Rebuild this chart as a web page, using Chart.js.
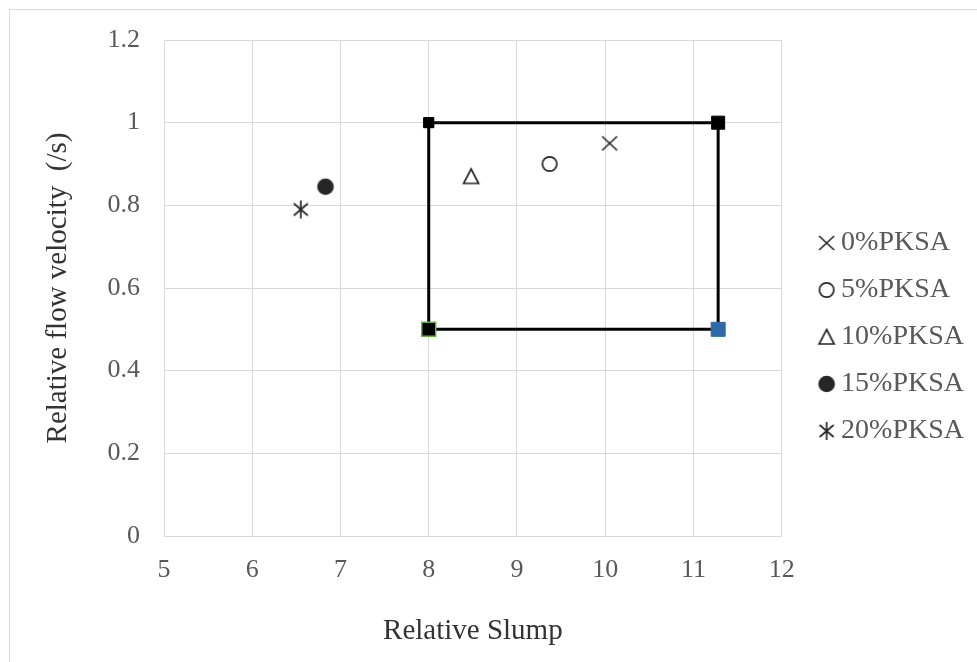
<!DOCTYPE html>
<html lang="en">
<head>
    <meta charset="UTF-8">
    <title>Relative flow velocity vs Relative Slump</title>
    <script src="https://cdn.jsdelivr.net/npm/chart.js@4.4.0/dist/chart.umd.min.js"></script>
    <style>
        body { margin: 0; background: #fff; }
        .wrap { position: relative; width: 977px; height: 662px; overflow: hidden; }
        .frame {
            position: absolute; left: 9px; top: 9px; width: 1000px; height: 700px;
            border: 1px solid #d9d9d9; pointer-events: none;
        }
    </style>
</head>
<body>
<div class="wrap">
    <canvas id="chart" width="977" height="662"></canvas>
    <div class="frame"></div>
</div>
<script>
    // mixes (legend order)
    const seriesNames = ['0%PKSA', '5%PKSA', '10%PKSA', '15%PKSA', '20%PKSA'];
    const slumpValues = [10.05, 9.37, 8.48, 6.83, 6.55];
    const flowValues  = [0.95, 0.90, 0.87, 0.845, 0.79];

    // limit box corners
    const boxX = [8, 11.28, 11.28, 8, 8];
    const boxY = [1, 1, 0.5, 0.5, 1];

    const xTickLabels = ['5', '6', '7', '8', '9', '10', '11', '12'];
    const yTickLabels = ['0', '0.2', '0.4', '0.6', '0.8', '1', '1.2'];

    const ink = '#262626';
    const serif = 'Liberation Serif, "Times New Roman", serif';

    function marker(size, draw) {
        const c = document.createElement('canvas');
        c.width = size; c.height = size;
        const g = c.getContext('2d');
        g.strokeStyle = ink; g.fillStyle = ink; g.lineWidth = 1.7;
        draw(g, size);
        return c;
    }

    const markers = [
        marker(20, (g, s) => { // x
            g.beginPath();
            g.moveTo(2.5, 3); g.lineTo(s - 2.5, s - 3);
            g.moveTo(s - 2.5, 3); g.lineTo(2.5, s - 3);
            g.stroke();
        }),
        marker(20, (g, s) => { // open circle
            g.beginPath(); g.arc(s / 2, s / 2, 7.2, 0, Math.PI * 2); g.stroke();
        }),
        marker(20, (g, s) => { // open triangle
            g.beginPath();
            g.moveTo(s / 2, 2.5); g.lineTo(s - 2.5, s - 3); g.lineTo(2.5, s - 3);
            g.closePath(); g.stroke();
        }),
        marker(20, (g, s) => { // filled circle
            g.beginPath(); g.arc(s / 2, s / 2, 8.3, 0, Math.PI * 2); g.fill();
        }),
        marker(20, (g, s) => { // asterisk
            g.beginPath();
            g.moveTo(s / 2, 1); g.lineTo(s / 2, s - 1);
            g.moveTo(3, 4); g.lineTo(s - 3, s - 4);
            g.moveTo(s - 3, 4); g.lineTo(3, s - 4);
            g.stroke();
        })
    ];

    const datasets = seriesNames.map((name, i) => ({
        label: name,
        data: [{ x: slumpValues[i], y: flowValues[i] }],
        pointStyle: markers[i],
        showLine: false
    }));

    datasets.push({
        label: 'box',
        data: boxX.map((x, i) => ({ x: x, y: boxY[i] })),
        showLine: true,
        borderColor: '#000',
        borderWidth: 3,
        pointStyle: 'rect',
        pointRadius: [7, 9.2, 9.9, 9.9, 7],
        pointBackgroundColor: ['#000', '#000', '#2e6aa7', '#000', '#000'],
        pointBorderColor: ['#000', '#000', '#2e6aa7', '#70ad47', '#000'],
        pointBorderWidth: [1, 1, 1, 1.5, 1]
    });

    // Excel leaves a gap between plot area and legend; Chart.js doesn't,
    // so widen the legend box and push its contents right.
    const legendGap = 25.4;
    const legendShiftUp = 14;
    const LegendEl = Chart.Legend && Chart.Legend._element;
    if (LegendEl) {
        const baseFit = LegendEl.prototype.fit;
        LegendEl.prototype.fit = function () {
            baseFit.call(this);
            if (!this.isHorizontal()) this.width += legendGap;
        };
    }
    const legendOffset = {
        id: 'legendOffset',
        afterLayout(chart) {
            const lg = chart.legend;
            if (!lg || !LegendEl) return;
            lg.left += legendGap;
            lg.top -= legendShiftUp;
            lg.bottom -= legendShiftUp;
        }
    };

    new Chart(document.getElementById('chart'), {
        type: 'scatter',
        data: { datasets: datasets },
        plugins: [legendOffset],
        options: {
            responsive: false,
            animation: false,
            layout: { padding: { top: 40, right: 3, left: 0, bottom: 0 } },
            scales: {
                x: {
                    min: 5, max: 12,
                    ticks: {
                        stepSize: 1, padding: 19, color: '#595959',
                        font: { family: serif, size: 26 },
                        callback: (v, i) => xTickLabels[i]
                    },
                    grid: { color: '#d9d9d9', drawTicks: false },
                    border: { color: '#d9d9d9' },
                    title: {
                        display: true, text: 'Relative Slump', color: '#333',
                        font: { family: serif, size: 29 },
                        padding: { top: 0, bottom: 13 }
                    },
                    afterFit: a => { a.height = 126; }
                },
                y: {
                    min: 0, max: 1.2,
                    ticks: {
                        stepSize: 0.2, padding: 24, color: '#595959',
                        font: { family: serif, size: 26 },
                        callback: (v, i) => yTickLabels[i]
                    },
                    grid: { color: '#d9d9d9', drawTicks: false },
                    border: { color: '#d9d9d9' },
                    title: {
                        display: true, text: 'Relative flow velocity  (/s)', color: '#333',
                        font: { family: serif, size: 29 },
                        padding: { top: 41, bottom: 0 }
                    },
                    afterFit: a => { a.width = 164; }
                }
            },
            plugins: {
                legend: {
                    position: 'right',
                    labels: {
                        usePointStyle: true,
                        pointStyleWidth: 1,
                        padding: 19,
                        color: '#595959',
                        font: { family: serif, size: 28 },
                        filter: item => item.datasetIndex < seriesNames.length
                    }
                },
                tooltip: { enabled: false }
            }
        }
    });
</script>
</body>
</html>
